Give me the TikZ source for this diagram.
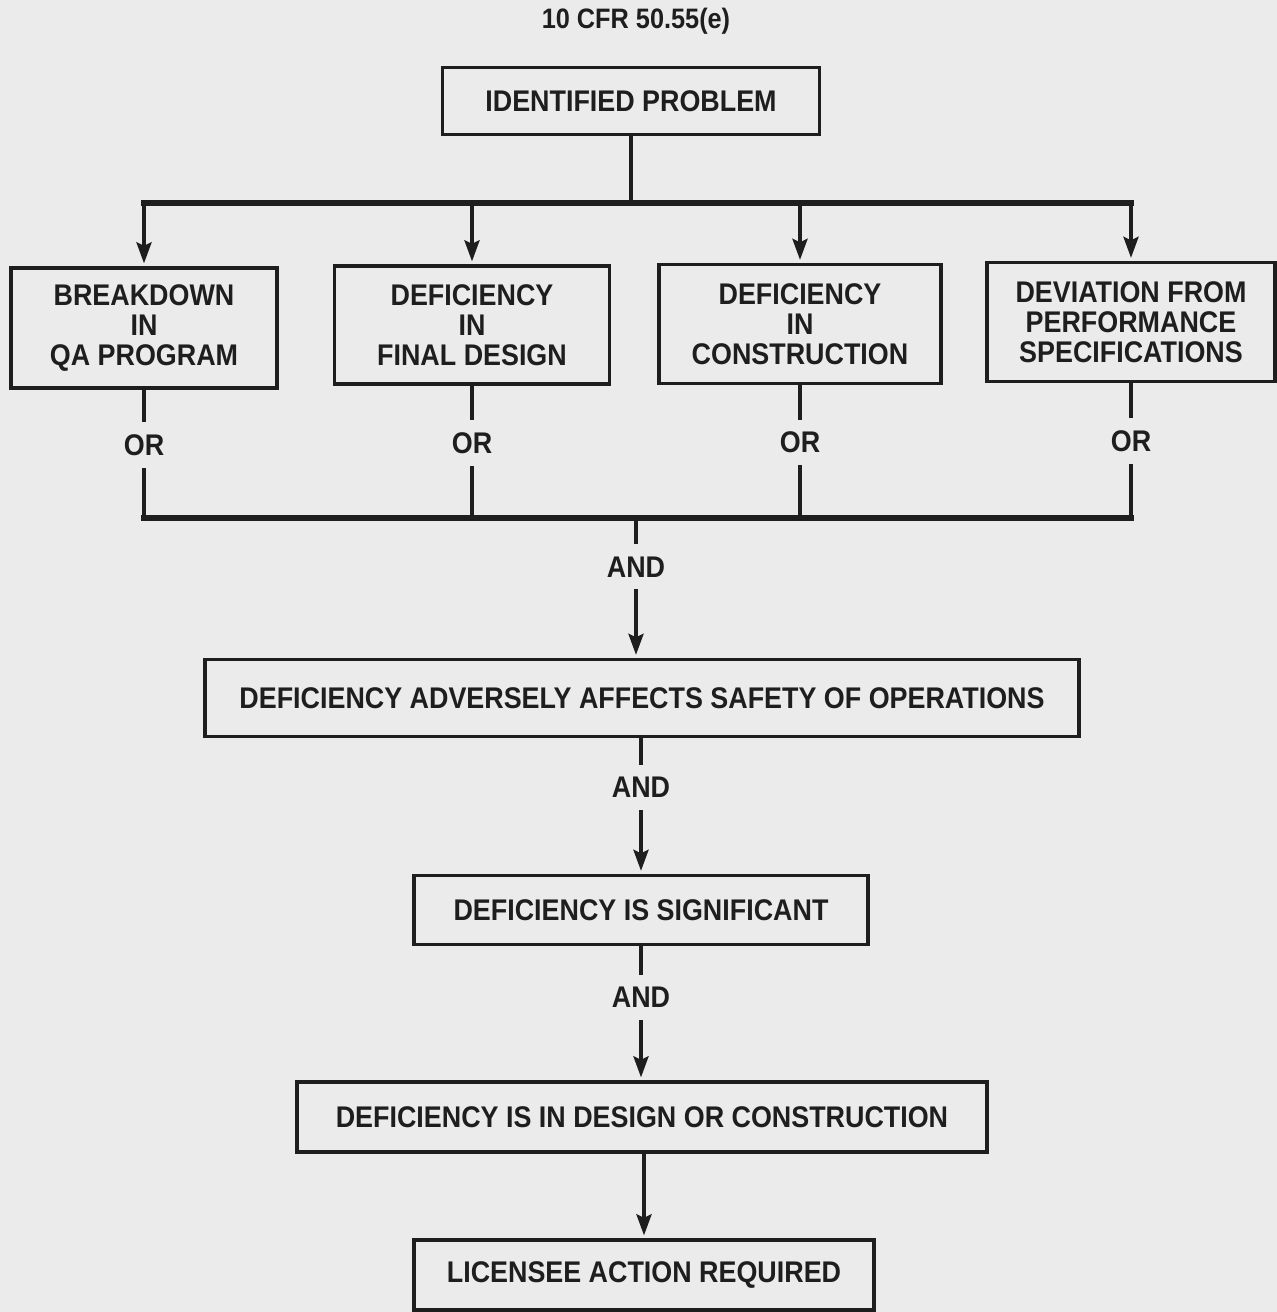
\documentclass[tikz,border=0pt]{standalone}
\usepackage{fontspec}
\setmainfont{Liberation Sans}[FakeStretch=0.9]
\usetikzlibrary{arrows.meta}
\definecolor{bg}{HTML}{EBEBEB}
\definecolor{ink}{HTML}{1E1E1E}
\begin{document}
\begin{tikzpicture}[x=0.02cm,y=-0.02cm,
  txt/.style={font=\bfseries\fontsize{17}{17}\selectfont, text=ink},
  box/.style={txt, draw=ink, line width=2.2pt, fill=bg, align=center, inner sep=0pt},
  conn/.style={draw=ink, line width=2.3pt},
  bus/.style={draw=ink, line width=3pt, line cap=rect},
  arr/.style={conn, -{Stealth[length=12pt,width=8.5pt,inset=2pt]}, shorten >=1.5pt},
  lab/.style={txt, fill=bg, inner xsep=2pt, inner ysep=7pt}]
\fill[bg] (0,0) rectangle (1277,1312);
\useasboundingbox (0,0) rectangle (1277,1312);

\node[txt, font=\bfseries\fontsize{16}{16}\selectfont] (title) at (636,21) {10 CFR 50.55(e)};

\node[box, minimum width=7.54cm, minimum height=1.34cm] (ident) at (631,101) {IDENTIFIED PROBLEM};

\node[box, minimum width=5.32cm, minimum height=2.4cm] (b1) at (144,328) {BREAKDOWN\\IN\\QA PROGRAM};
\node[box, minimum width=5.5cm, minimum height=2.36cm] (b2) at (472,325) {DEFICIENCY\\IN\\FINAL DESIGN};
\node[box, minimum width=5.64cm, minimum height=2.38cm] (b3) at (800,324) {DEFICIENCY\\IN\\CONSTRUCTION};
\node[box, minimum width=5.76cm, minimum height=2.38cm] (b4) at (1131,322) {DEVIATION FROM\\PERFORMANCE\\SPECIFICATIONS};

\node[box, minimum width=17.48cm, minimum height=1.54cm] (safety) at (642,698) {DEFICIENCY ADVERSELY AFFECTS SAFETY OF OPERATIONS};
\node[box, minimum width=9.08cm, minimum height=1.38cm] (signif) at (641,910) {DEFICIENCY IS SIGNIFICANT};
\node[box, minimum width=13.8cm, minimum height=1.4cm] (design) at (642,1117) {DEFICIENCY IS IN DESIGN OR CONSTRUCTION};
\node[box, minimum width=9.2cm, minimum height=1.4cm] (lic) at (644,1275) {LICENSEE ACTION REQUIRED};

\coordinate (topbus) at (0,203);
\coordinate (botbus) at (0,518);
\coordinate (andx) at (636,0);

% top distribution
\draw[conn] (ident.south) -- (ident.south |- topbus);
\draw[bus] (b1.north |- topbus) -- (b4.north |- topbus);
\foreach \b in {b1,b2,b3,b4}
  \draw[arr] (\b.north |- topbus) -- (\b.north);

% OR collection
\foreach \b in {b1,b2,b3,b4}
  \draw[conn] (\b.south) -- node[lab, pos=0.43] {OR} (\b.south |- botbus);
\draw[bus] (b1.south |- botbus) -- (b4.south |- botbus);

% chain
\draw[arr] (andx |- botbus) -- node[lab, pos=0.35] {AND} (andx |- safety.north);
\draw[arr] (safety.south -| signif.north) -- node[lab, pos=0.36] {AND} (signif.north);
\draw[arr] (signif.south) -- node[lab, pos=0.38] {AND} (signif.south |- design.north);
\draw[arr] (design.south -| lic.north) -- (lic.north);
\end{tikzpicture}
\end{document}
